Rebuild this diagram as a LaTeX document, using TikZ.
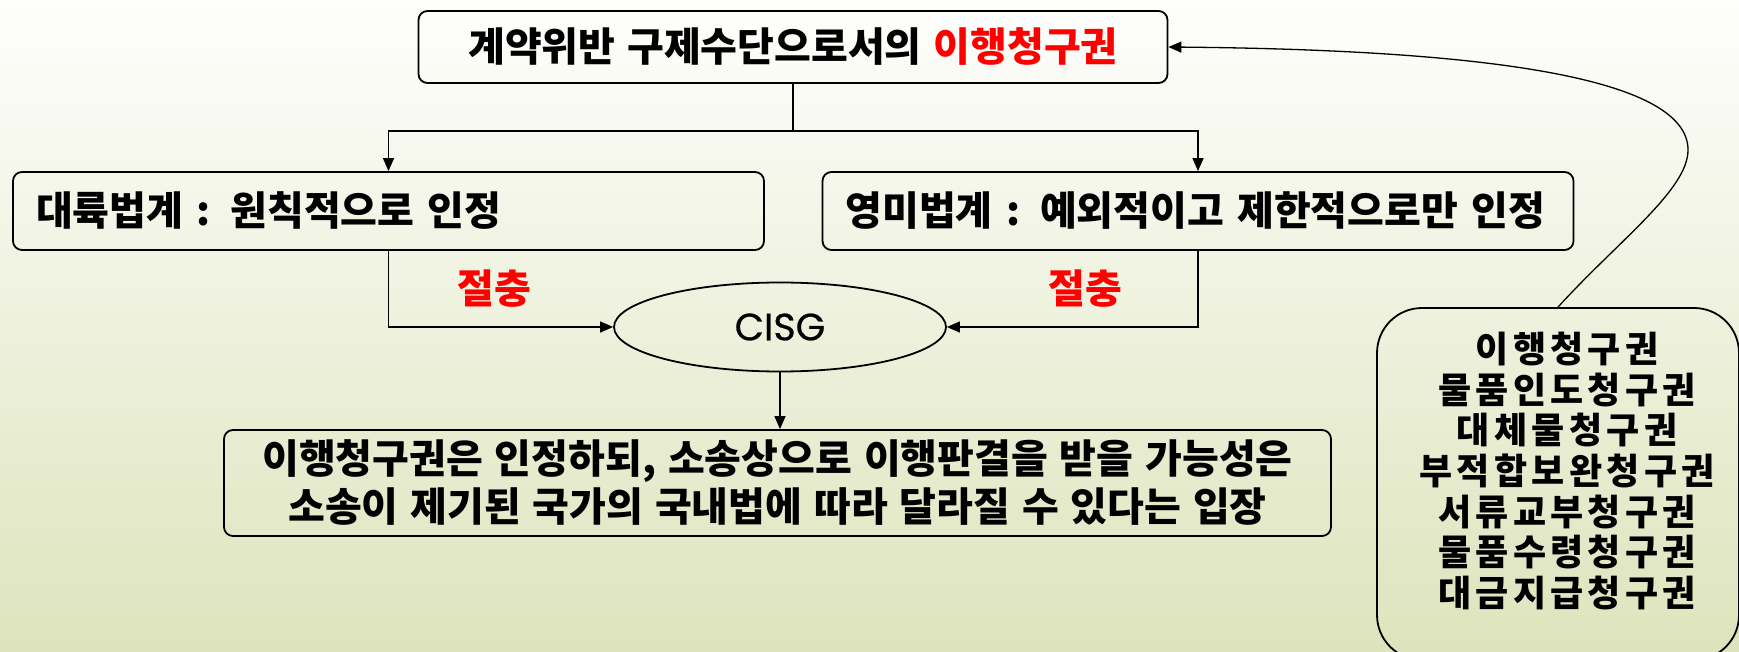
\documentclass[tikz,border=0pt]{standalone}
\usepackage{xcolor}
\usepackage{fontspec}
\setmainfont{Noto Sans CJK KR}[WordSpace=1.3]
\newfontfamily\listfont{Noto Sans CJK KR}[LetterSpace=12]
\newfontfamily\latinfont{Poppins}[FakeBold=0.6]
\usepackage{tikz}
\usetikzlibrary{arrows.meta}
\usetikzlibrary{shapes.geometric}

\definecolor{bgtop}{RGB}{254,254,253}
\definecolor{bgbot}{RGB}{221,228,188}

\begin{document}
\begin{tikzpicture}[
                x = 1pt, y = -1pt,
                box/.style = {draw, line width = 1.8pt, rounded corners = 9pt, inner sep = 0pt,
                              font = \fontsize{40}{44}\selectfont\bfseries},
                sidebox/.style = {box, minimum height = 78pt, text width = 705pt, align = left, inner xsep = 23pt},
                oval/.style = {draw, line width = 1.8pt, ellipse, inner sep = 0pt,
                               minimum width = 332pt, minimum height = 89pt,
                               font = \fontsize{38}{40}\latinfont},
                note/.style = {text = red, font = \fontsize{40}{44}\selectfont\bfseries},
                arr/.style = {draw, line width = 1.3pt, -{Triangle[length = 13pt, width = 11pt]}},
            ]
            \path[use as bounding box] (0,0) rectangle (1739,652);
            \clip (0,0) rectangle (1739,652);
            \shade[top color = bgtop, bottom color = bgbot] (0,0) rectangle (1739,652);

            \node (top) [box, minimum width = 749pt, minimum height = 72pt] at (793,47)
                {계약위반 구제수단으로서의 \textcolor{red}{이행청구권}};
            \node (civil) [sidebox] at (388.5,211) {대륙법계 : 원칙적으로 인정};
            \node (common) [sidebox] at (1198,211) {영미법계 : 예외적이고 제한적으로만 인정};
            \node (cisg) [oval] at (780,327) {CISG};
            \node (result) [box, minimum width = 1107pt, minimum height = 106pt, align = center,
                            font = \fontsize{40}{48}\selectfont\bfseries] at (777.5,483)
                {이행청구권은 인정하되, 소송상으로 이행판결을 받을 가능성은\\
                 소송이 제기된 국가의 국내법에 따라 달라질 수 있다는 입장};
            \node (rights) [box, rounded corners = 45pt, minimum width = 362pt, minimum height = 352pt] at (1558,484) {};
            \node (rlist) [align = center, font = \fontsize{36}{40.7}\listfont\bfseries] at (1567,471)
                {이행청구권\\물품인도청구권\\대체물청구권\\부적합보완청구권\\서류교부청구권\\물품수령청구권\\대금지급청구권};

            \node (mid1) [note] at (494,289) {절충};
            \node (mid2) [note] at (1085,289) {절충};

            \coordinate (fork) at (793,131);
            \coordinate (bend) at (1688,150);

            \draw[line width = 1.3pt] (top.south) -- (fork);
            \path[arr] (fork) -| (civil.north);
            \path[arr] (fork) -| (common.north);
            \path[arr] (civil.south) |- (cisg.west);
            \path[arr] (common.south) |- (cisg.east);
            \path[arr] (cisg.south) -- (cisg.south |- result.north);
            \path[arr] (rights.north) .. controls (1618,241) and (1688,190) .. (bend)
                .. controls (1688,80) and (1500,50) .. (top.east);
        \end{tikzpicture}
\end{document}
